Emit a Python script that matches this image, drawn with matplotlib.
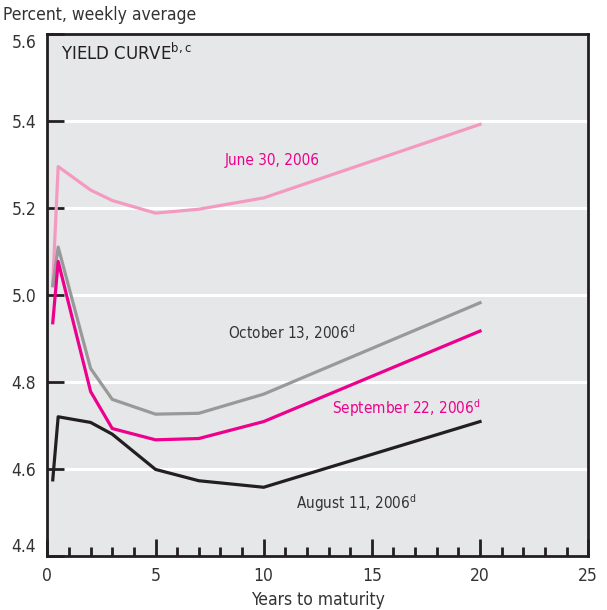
import matplotlib
matplotlib.use("Agg")
from matplotlib import pyplot as plt
from matplotlib.ticker import MultipleLocator

# data
maturity = [0.25, 0.5, 2, 3, 5, 7, 10, 20]
june30 = [5.025, 5.295, 5.241, 5.217, 5.188, 5.197, 5.223, 5.392]
oct13 = [5.021, 5.110, 4.831, 4.760, 4.726, 4.728, 4.772, 4.982]
sep22 = [4.936, 5.077, 4.778, 4.693, 4.667, 4.670, 4.709, 4.917]
aug11 = [4.575, 4.720, 4.707, 4.680, 4.599, 4.573, 4.558, 4.709]

y_ticks = [4.4, 4.6, 4.8, 5.0, 5.2, 5.4, 5.6]
x_ticks = [0, 5, 10, 15, 20, 25]

# condensed face, close to the narrow sans of the original
plt.rcParams['font.family'] = ['DejaVu Sans']
plt.rcParams['font.stretch'] = 'condensed'

fig = plt.figure(figsize=(6.07, 6.10), dpi=100)
ax = fig.add_axes([0.078, 0.0885, 0.891, 0.856])
ax.set_facecolor('#e6e7e8')

# white gridlines
for v in y_ticks[1:-1]:
    ax.axhline(v, color='white', lw=2.2, zorder=1)

ax.plot(maturity, june30, color='#f49ac1', lw=2.3, zorder=3)
ax.plot(maturity, oct13, color='#999999', lw=2.3, zorder=3)
ax.plot(maturity, sep22, color='#ec008c', lw=2.3, zorder=4)
ax.plot(maturity, aug11, color='#231f20', lw=2.3, zorder=4)

ax.set_xlim(0, 25)
ax.set_ylim(4.4, 5.6)

for s in ax.spines.values():
    s.set_linewidth(2)
    s.set_color('#231f20')

ax.set_xticks(x_ticks)
ax.xaxis.set_minor_locator(MultipleLocator(1))
ax.set_yticks(y_ticks)
ax.set_yticklabels(['%.1f' % v for v in y_ticks])
ax.tick_params(axis='y', direction='in', length=12.5, width=2, pad=8,
               labelsize=12.5, colors='#231f20', labelcolor='#333333')
ax.tick_params(axis='x', which='major', direction='in', length=12, width=2,
               pad=8, labelsize=12.5, colors='#231f20', labelcolor='#333333')
ax.tick_params(axis='x', which='minor', direction='in', length=6.5, width=2,
               colors='#231f20')
ylabs = ax.get_yticklabels()
ylabs[0].set_va('bottom')
ylabs[-1].set_va('top')

ax.set_xlabel('Years to maturity', fontsize=12.5, color='#333333', labelpad=4)

fig.text(0.005, 0.99, 'Percent, weekly average', fontsize=12.5,
         color='#333333', va='top', ha='left')
ax.text(0.62, 5.555, r'YIELD CURVE$^{\mathregular{b,c}}$', fontsize=12,
        color='#231f20', va='center', ha='left', stretch='normal')

ax.text(10.4, 5.31, 'June 30, 2006', fontsize=11, color='#ec008c',
        ha='center', va='center')
ax.text(11.3, 4.913, r'October 13, 2006$^{\mathregular{d}}$', fontsize=11,
        color='#333333', ha='center', va='center')
ax.text(16.58, 4.74, r'September 22, 2006$^{\mathregular{d}}$', fontsize=11,
        color='#ec008c', ha='center', va='center')
ax.text(14.3, 4.522, r'August 11, 2006$^{\mathregular{d}}$', fontsize=11,
        color='#333333', ha='center', va='center')

plt.savefig('out.png', dpi=100)
